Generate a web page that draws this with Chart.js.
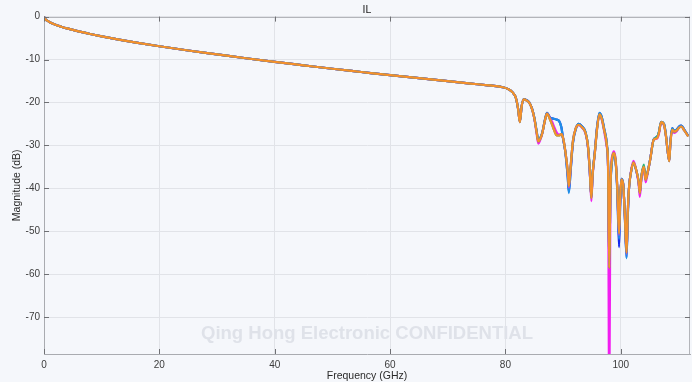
<!DOCTYPE html>
<html>
<head>
<meta charset="utf-8">
<title>IL</title>
<script src="https://cdn.jsdelivr.net/npm/chart.js@4.4.1/dist/chart.umd.min.js"></script>
<style>
  html, body { margin: 0; padding: 0; background: #f5f7fb; }
  canvas { display: block; }
</style>
</head>
<body>
<canvas id="ilChart" width="692" height="382"></canvas>
<script>
// Insertion loss (GHz / dB)
// below ~80 GHz all traces sit on top of each other
const freqLow = [0, 0.25, 0.5, 1, 2, 3, 4, 6, 8, 10, 13, 16, 20, 25, 30, 35, 40, 45, 50, 55, 60, 65, 70, 74, 77, 78, 79.5];
const ilLow = [0, -0.6, -0.9, -1.3, -1.9, -2.35, -2.75, -3.45, -4.05, -4.6, -5.35, -6.05, -6.9, -7.9, -8.8, -9.7,
  -10.55, -11.35, -12.15, -12.9, -13.65, -14.35, -15.05, -15.6, -16.0, -16.15, -16.45];

// resonance band, every trace has its own values here
const freqHigh = [80.5, 81.2, 81.8, 82.2, 82.5, 82.8, 83.2, 83.6, 84.1, 84.6,
  85.0, 85.4, 85.7, 86.0, 86.4, 86.8, 87.2, 87.5, 87.8, 88.1,
  88.4, 88.9, 89.3, 89.7, 90.0, 90.4, 90.8, 91.0, 91.3, 91.7,
  92.2, 92.7, 93.3, 93.9, 94.3, 94.6, 94.9, 95.1, 95.5, 95.9,
  96.3, 96.7, 97.1, 97.6, 97.8, 98.0, 98.2, 98.5, 98.8, 99.1,
  99.4, 99.7, 99.9, 100.1, 100.4, 100.7, 101.0, 101.2, 101.4, 101.8,
  102.2, 102.8, 103.1, 103.3, 103.6, 104.0, 104.3, 104.7, 105.1, 105.7,
  106.3, 106.6, 107.0, 107.5, 107.8, 108.1, 108.4, 108.6, 108.9, 109.3,
  109.7, 110.1, 110.5, 111.0, 111.7];

const ilOrange = [-16.9, -17.6, -18.9, -21.5, -24.6, -21.0, -19.3, -19.5, -20.0, -21.5,
  -23.6, -26.8, -29.1, -28.6, -27.1, -24.5, -22.6, -23.2, -24.2, -25.2,
  -26.3, -27.7, -27.7, -27.4, -28.3, -31.5, -36.0, -39.5, -35.0, -29.0,
  -26.0, -25.2, -25.8, -27.1, -30.0, -35.0, -42.3, -37.0, -31.8, -26.0,
  -22.8, -23.8, -26.3, -30.2, -35.0, -58.6, -40.0, -33.0, -31.8, -33.5,
  -40.0, -50.5, -42.0, -38.0, -39.0, -46.0, -55.0, -46.0, -40.3, -36.0,
  -34.0, -36.4, -38.5, -41.1, -37.0, -35.0, -38.0, -36.0, -33.3, -28.7,
  -28.3, -27.2, -24.6, -25.2, -27.5, -31.0, -33.7, -29.5, -26.3, -26.8,
  -26.5, -25.9, -25.6, -26.5, -27.9];

const ilBlue = [-16.9, -17.6, -18.9, -21.5, -24.4, -21.0, -19.2, -19.4, -19.9, -21.4,
  -23.5, -26.6, -28.8, -28.4, -27.0, -24.4, -22.4, -23.0, -23.6, -23.7,
  -23.8, -24.0, -24.3, -25.8, -28.5, -31.7, -37.5, -41.1, -36.0, -29.5,
  -26.2, -25.0, -25.6, -27.0, -30.2, -35.5, -42.0, -37.0, -31.5, -25.6,
  -22.4, -23.4, -26.0, -30.0, -35.0, -58.0, -40.5, -33.5, -32.3, -33.8,
  -40.5, -51.8, -43.0, -37.8, -38.8, -46.5, -56.3, -47.0, -40.5, -36.0,
  -34.2, -36.5, -38.6, -41.0, -37.0, -35.0, -37.8, -36.0, -33.2, -28.6,
  -28.0, -27.0, -24.5, -25.0, -27.3, -31.0, -33.5, -29.2, -26.0, -26.6,
  -26.3, -25.6, -25.4, -26.3, -27.8];

const ilMagenta = [-16.9, -17.6, -18.9, -21.5, -24.6, -21.0, -19.3, -19.5, -20.0, -21.5,
  -23.7, -27.2, -29.6, -28.9, -27.2, -24.5, -22.6, -23.1, -23.9, -24.5,
  -25.5, -27.0, -27.5, -27.4, -28.3, -31.5, -36.0, -39.8, -35.2, -29.0,
  -26.0, -25.3, -25.9, -27.3, -30.3, -35.5, -43.0, -37.5, -31.8, -26.0,
  -22.9, -24.0, -26.6, -30.6, -36.0, -95.0, -40.0, -32.5, -31.4, -33.2,
  -40.0, -50.8, -42.0, -38.0, -39.0, -46.0, -55.2, -46.0, -40.3, -35.8,
  -33.6, -36.6, -39.0, -42.0, -37.5, -35.2, -38.6, -36.2, -33.3, -28.7,
  -28.4, -27.4, -24.7, -25.4, -27.6, -31.0, -33.7, -29.5, -26.6, -27.1,
  -26.7, -25.9, -25.6, -26.5, -27.9];

const ilGreen = [-16.9, -17.6, -18.9, -21.5, -24.6, -21.0, -19.3, -19.5, -20.0, -21.5,
  -23.6, -26.8, -29.1, -28.6, -27.1, -24.5, -22.6, -23.2, -24.2, -25.2,
  -26.3, -27.7, -27.7, -27.4, -28.3, -31.5, -36.0, -39.5, -35.0, -29.0,
  -26.0, -25.2, -25.8, -27.1, -30.0, -35.0, -42.3, -37.0, -31.8, -26.0,
  -22.8, -23.8, -26.3, -30.2, -35.0, -58.6, -40.0, -33.0, -31.8, -33.5,
  -40.0, -50.5, -42.0, -38.0, -39.0, -46.0, -55.0, -46.0, -40.3, -36.0,
  -34.0, -36.4, -38.5, -41.1, -37.0, -34.5, -38.0, -36.0, -33.3, -28.7,
  -28.0, -27.0, -24.6, -25.2, -27.5, -31.0, -33.7, -29.5, -26.3, -26.8,
  -26.5, -25.9, -25.6, -26.5, -27.9];

const ilDarkBlue = [-16.9, -17.6, -18.9, -21.5, -24.4, -21.0, -19.2, -19.4, -19.9, -21.4,
  -23.5, -26.6, -28.8, -28.4, -27.0, -24.4, -22.4, -23.0, -23.6, -23.7,
  -23.8, -24.0, -24.3, -25.8, -28.5, -31.7, -37.3, -40.8, -36.0, -29.5,
  -26.2, -25.0, -25.6, -27.0, -30.2, -35.5, -42.0, -37.0, -31.5, -25.6,
  -22.5, -23.4, -26.0, -30.0, -35.0, -58.0, -40.5, -33.5, -32.3, -33.8,
  -41.0, -53.7, -44.0, -37.8, -38.8, -46.5, -56.0, -47.0, -40.5, -36.0,
  -34.2, -36.5, -38.6, -41.0, -37.0, -35.0, -37.8, -36.0, -33.2, -28.6,
  -28.0, -27.0, -24.5, -25.0, -27.3, -31.0, -33.5, -29.2, -26.0, -26.6,
  -26.3, -25.6, -25.4, -26.3, -27.8];

const xTicks = [0, 20, 40, 60, 80, 100];
const yTicks = [0, -10, -20, -30, -40, -50, -60, -70];

const freqAll = freqLow.concat(freqHigh);
const toPoints = (high) => ilLow.concat(high).map((v, i) => ({ x: freqAll[i], y: v }));

const textColor = '#3c3c3c';
const font = 'Liberation Sans, Arial, Helvetica, sans-serif';

// page colour behind everything
const background = {
  id: 'background',
  beforeDraw(chart) {
    const ctx = chart.ctx;
    ctx.save();
    ctx.fillStyle = '#f5f7fb';
    ctx.fillRect(0, 0, chart.width, chart.height);
    ctx.restore();
  }
};

// faint watermark under the traces
const watermark = {
  id: 'watermark',
  beforeDatasetsDraw(chart) {
    const { ctx, chartArea: a } = chart;
    ctx.save();
    ctx.font = 'bold 18.5px ' + font;
    ctx.fillStyle = '#dfe2e9';
    ctx.textAlign = 'center';
    ctx.textBaseline = 'alphabetic';
    ctx.fillText('Qing Hong Electronic CONFIDENTIAL', (a.left + a.right) / 2, 339);
    ctx.restore();
  }
};

// matlab-ish box: top/right edges and ticks pointing inwards
const frame = {
  id: 'frame',
  afterDatasetsDraw(chart) {
    const { ctx, chartArea: a, scales: { x, y } } = chart;
    ctx.save();
    ctx.lineWidth = 1;
    ctx.strokeStyle = '#b3b5ba';
    ctx.beginPath();
    ctx.moveTo(a.left, Math.round(a.top) + 0.5);
    ctx.lineTo(a.right, Math.round(a.top) + 0.5);
    ctx.moveTo(Math.round(a.right) - 0.5, a.top);
    ctx.lineTo(Math.round(a.right) - 0.5, a.bottom);
    ctx.stroke();

    ctx.strokeStyle = '#6f7074';
    ctx.beginPath();
    xTicks.forEach(v => {
      const px = Math.round(x.getPixelForValue(v)) + 0.5;
      ctx.moveTo(px, a.bottom); ctx.lineTo(px, a.bottom - 5);
      ctx.moveTo(px, a.top); ctx.lineTo(px, a.top + 5);
    });
    yTicks.forEach(v => {
      const py = Math.round(y.getPixelForValue(v)) + 0.5;
      ctx.moveTo(a.left, py); ctx.lineTo(a.left + 5, py);
      ctx.moveTo(a.right, py); ctx.lineTo(a.right - 5, py);
    });
    ctx.stroke();
    ctx.restore();
  }
};

const trace = (label, color, high) => ({
  label: label,
  data: toPoints(high),
  borderColor: color,
  backgroundColor: color,
  borderWidth: 2.2,
  pointRadius: 0,
  cubicInterpolationMode: 'monotone',
  fill: false
});

new Chart(document.getElementById('ilChart'), {
  type: 'line',
  data: {
    // first dataset ends up on top
    datasets: [
      trace('Trace 5', '#f4902c', ilOrange),
      trace('Trace 4', '#2cb37a', ilGreen),
      trace('Trace 3', '#f21ef0', ilMagenta),
      trace('Trace 1', '#1f8ee6', ilBlue),
      trace('Trace 2', '#1226ee', ilDarkBlue)
    ]
  },
  options: {
    responsive: false,
    animation: false,
    layout: { padding: { right: 2 } },
    plugins: {
      legend: { display: false },
      tooltip: { enabled: false },
      title: {
        display: true,
        text: 'IL',
        fullSize: false,
        color: '#222',
        font: { family: font, size: 10.5, weight: 'normal' },
        padding: { top: 4, bottom: 0 }
      }
    },
    scales: {
      x: {
        type: 'linear',
        min: 0,
        max: 112,
        afterFit(s) { s.height = 28; },
        afterBuildTicks(s) { s.ticks = xTicks.map(v => ({ value: v })); },
        grid: { color: '#e1e3e8', drawTicks: false },
        border: { display: true, color: '#a9abb0' },
        ticks: { color: textColor, padding: 5, font: { family: font, size: 10 } },
        title: {
          display: true,
          text: 'Frequency (GHz)',
          color: '#2a2a2a',
          font: { family: font, size: 10.5 },
          padding: { top: 0, bottom: 0 }
        }
      },
      y: {
        type: 'linear',
        min: -78.6,
        max: 0,
        afterFit(s) { s.width = 44; },
        afterBuildTicks(s) { s.ticks = yTicks.map(v => ({ value: v })); },
        grid: { color: '#e1e3e8', drawTicks: false },
        border: { display: true, color: '#a9abb0' },
        ticks: { color: textColor, padding: 4, font: { family: font, size: 10 } },
        title: {
          display: true,
          text: 'Magnitude (dB)',
          color: '#2a2a2a',
          font: { family: font, size: 10.5 },
          padding: { top: 11, bottom: 0 }
        }
      }
    }
  },
  plugins: [background, watermark, frame]
});
</script>
</body>
</html>
